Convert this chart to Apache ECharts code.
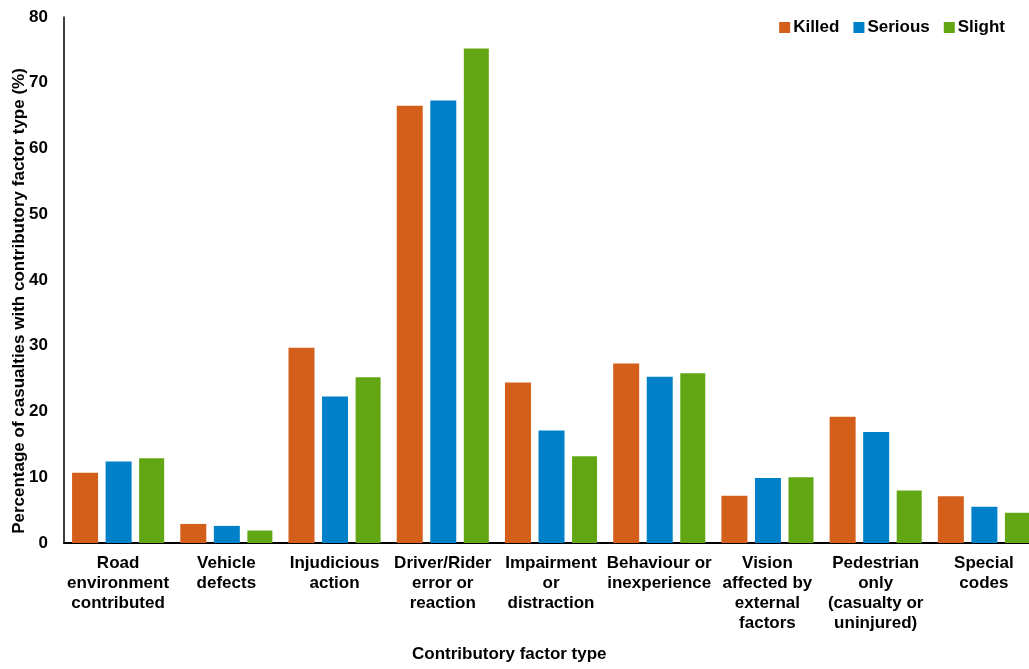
<!DOCTYPE html>
<html>
<head>
<meta charset="utf-8">
<script src="https://cdn.jsdelivr.net/npm/echarts@6/dist/echarts.min.js"></script>
<style>
html,body{margin:0;padding:0;background:#fff;}
#chart{width:1029px;height:669px;}
</style>
</head>
<body>
<div id="chart"></div>
<script>
var categories = [
  "Road\nenvironment\ncontributed",
  "Vehicle\ndefects",
  "Injudicious\naction",
  "Driver/Rider\nerror or\nreaction",
  "Impairment\nor\ndistraction",
  "Behaviour or\ninexperience",
  "Vision\naffected by\nexternal\nfactors",
  "Pedestrian\nonly\n(casualty or\nuninjured)",
  "Special\ncodes"
];
var killed  = [10.7, 2.9, 29.7, 66.5, 24.4, 27.3, 7.2, 19.2, 7.1];
var serious = [12.4, 2.6, 22.3, 67.3, 17.1, 25.3, 9.9, 16.9, 5.5];
var slight  = [12.9, 1.9, 25.2, 75.2, 13.2, 25.8, 10.0, 8.0, 4.6];
var seriesNames = ["Killed", "Serious", "Slight"];
var yTicks = { min: 0, max: 80, interval: 10 };
var xTitle = "Contributory factor type";
var yTitle = "Percentage of casualties with contributory factor type (%)";

var FONT = '"Liberation Sans", Arial, sans-serif';
var colors = ["#D35F1A", "#0080C9", "#62A713"];

var chart = echarts.init(document.getElementById('chart'), null, {renderer: 'canvas'});
chart.setOption({
  animation: false,
  color: colors,
  textStyle: { fontFamily: FONT },
  grid: { left: 64, top: 17, height: 526, width: 974, containLabel: false, outerBoundsMode: 'none' },
  legend: {
    data: seriesNames,
    right: 19,
    top: 14,
    icon: 'rect',
    itemWidth: 11,
    itemHeight: 11,
    itemGap: 14,
    textStyle: { fontFamily: FONT, fontSize: 17, fontWeight: 'bold', color: '#000', padding: [0, 0, 0, -2] }
  },
  xAxis: {
    type: 'category',
    data: categories,
    axisLine: { show: true, lineStyle: { color: '#000', width: 2 } },
    axisTick: { show: false },
    axisLabel: {
      interval: 0,
      margin: 10,
      fontFamily: FONT,
      fontSize: 17,
      fontWeight: 'bold',
      color: '#000',
      lineHeight: 20,
      align: 'center',
      verticalAlign: 'top'
    }
  },
  yAxis: {
    type: 'value',
    min: yTicks.min,
    max: yTicks.max,
    interval: yTicks.interval,
    splitLine: { show: false },
    axisLine: { show: true, lineStyle: { color: '#000', width: 1.5 } },
    axisTick: { show: false },
    axisLabel: {
      margin: 16,
      fontFamily: FONT,
      fontSize: 17,
      fontWeight: 'bold',
      color: '#000'
    }
  },
  graphic: [
    {
      type: 'text',
      left: 510 - 98,
      top: 646,
      style: { text: xTitle, font: 'bold 17px ' + FONT, fill: '#000' }
    },
    {
      type: 'text',
      x: 19,
      y: 301,
      rotation: Math.PI / 2,
      style: { text: yTitle, font: 'bold 17px ' + FONT, fill: '#000', align: 'center', verticalAlign: 'middle' }
    }
  ],
  series: [
    { name: seriesNames[0], type: 'bar', data: killed, barWidth: 26, barGap: '29%' },
    { name: seriesNames[1], type: 'bar', data: serious, barWidth: 26, barGap: '29%' },
    { name: seriesNames[2], type: 'bar', data: slight, barWidth: 25, barGap: '29%' }
  ]
});
</script>
</body>
</html>
